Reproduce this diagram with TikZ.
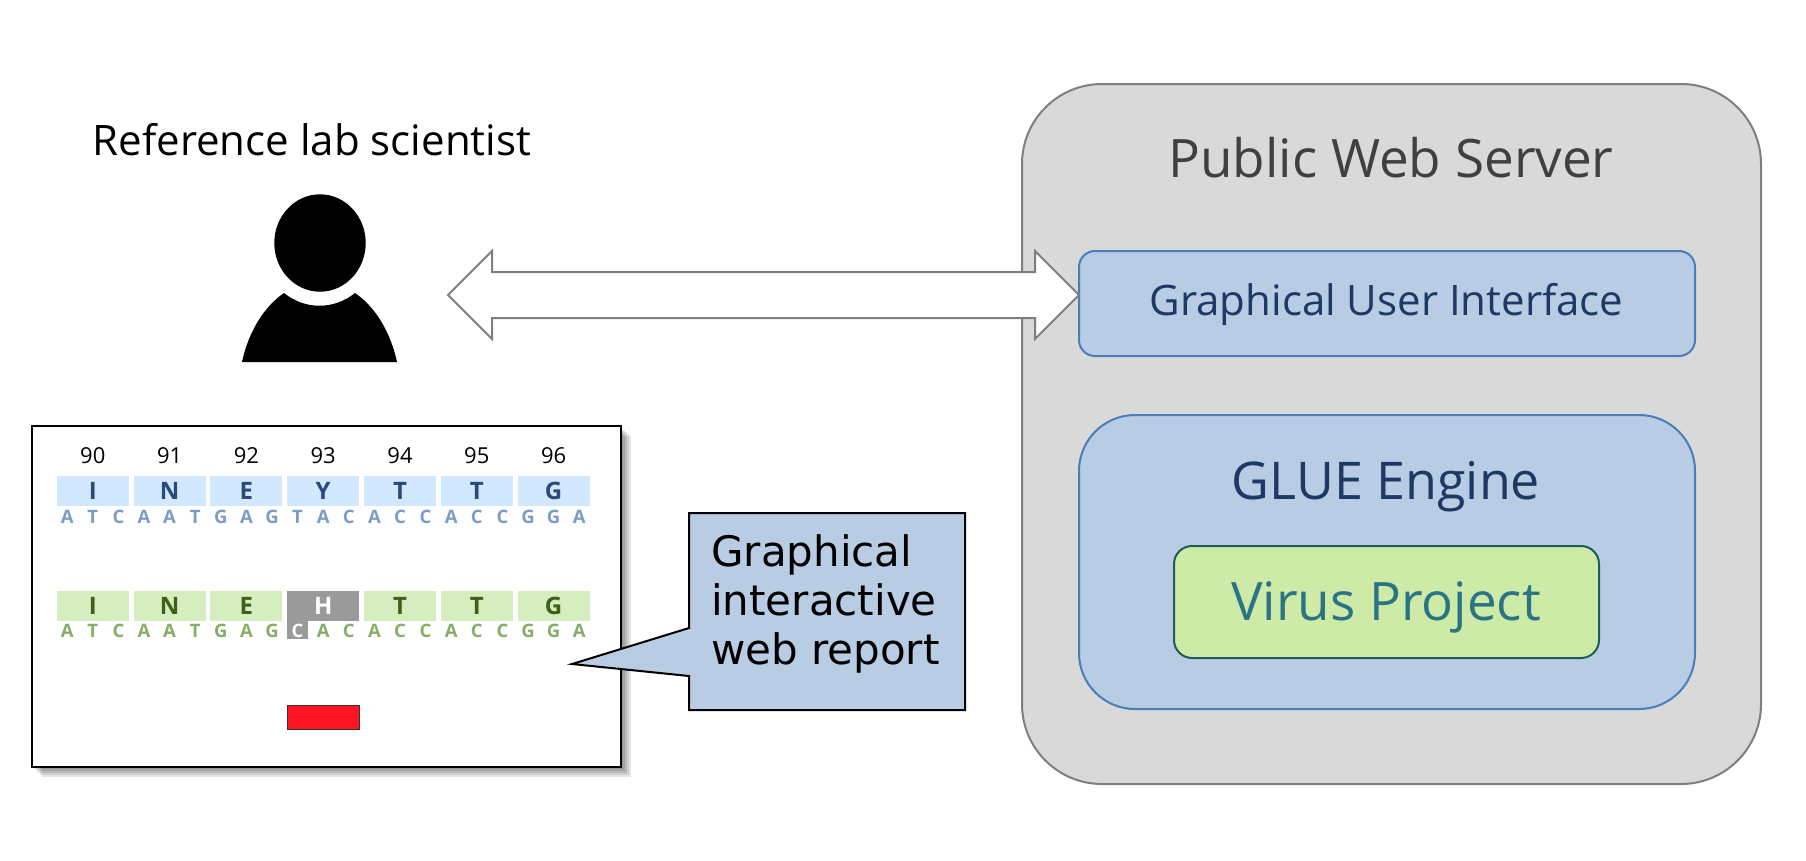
\documentclass[tikz,border=0pt]{standalone}
\usepackage{fontspec}
\setmainfont{Open Sans}
\newfontfamily\calloutfont{DejaVu Sans}
\usetikzlibrary{positioning, shapes.arrows, calc}
\definecolor{serverfill}{HTML}{D9D9D9}
\definecolor{serverline}{HTML}{7F7F7F}
\definecolor{bluefill}{HTML}{B8CCE4}
\definecolor{blueline}{HTML}{4A7EBB}
\definecolor{bluetext}{HTML}{1F3864}
\definecolor{greenfill}{HTML}{CDEBA6}
\definecolor{greenline}{HTML}{1F5C5C}
\definecolor{greentext}{HTML}{2B7485}
\definecolor{cellblue}{HTML}{D2E8FF}
\definecolor{cellgreen}{HTML}{D5EDBF}
\definecolor{aablue}{HTML}{2A4A7A}
\definecolor{ntblue}{HTML}{7C9CC8}
\definecolor{aagreen}{HTML}{3E6018}
\definecolor{ntgreen}{HTML}{85AE68}
\definecolor{cellgrey}{HTML}{9A9A9A}
\definecolor{flagred}{HTML}{FF1423}
\newcommand{\fsize}[1]{\fontsize{#1}{#1}\selectfont}
\tikzset{
  panel/.style={draw=blueline, line width=2pt, fill=bluefill, text=bluetext, inner sep=0pt},
  cell/.style={minimum width=72pt, minimum height=30pt, inner sep=0pt, font=\fsize{24}\bfseries},
  nt/.style={inner sep=0pt, font=\fsize{18.5}\bfseries},
  posnum/.style={inner sep=0pt, font=\fsize{22}},
}
\begin{document}
\begin{tikzpicture}[x=1pt, y=-1pt]
    \useasboundingbox (0,0) rectangle (1806,860);
    % web server
    \node[draw=serverline, line width=2pt, fill=serverfill, rounded corners=80pt, minimum width=739pt, minimum height=700pt, inner sep=0pt] (server) at (1391.5,434) {};
    \node[text=black!75, font=\fsize{53}] (servertitle) at (1391,158) {Public Web Server};
    \node[panel, rounded corners=16pt, minimum width=616pt, minimum height=105pt] (gui) at (1387,303.5) {};
    \node[text=bluetext, font=\fsize{42}] (guititle) at (1386.5,304) {Graphical User Interface};
    \node[panel, rounded corners=56pt, minimum width=616pt, minimum height=294pt] (glue) at (1387,562) {};
    \node[text=bluetext, font=\fsize{52}] (gluetitle) at (1386,487) {GLUE Engine};
    \node[draw=greenline, line width=2pt, fill=greenfill, rounded corners=18pt, minimum width=425pt, minimum height=112pt, inner sep=0pt] (virus) at (1386.5,602) {};
    \node[text=greentext, font=\fsize{53}] (virustitle) at (1386,607) {Virus Project};
    % scientist
    \node[font=\fsize{42}] (scientist) at (312,140) {Reference lab scientist};
    \fill (320,243) ellipse [x radius=45.7, y radius=48.7];
    \fill (242,362) .. controls (249,330) and (265,306) .. (284,293)
        .. controls (305,310) and (334,310) .. (355,293)
        .. controls (374,306) and (390,330) .. (397,362) -- cycle;
    % link
    \node[draw=serverline, line width=2pt, fill=white, double arrow, double arrow tip angle=90, double arrow head extend=21pt, double arrow head indent=0pt, inner xsep=0pt, inner ysep=22pt, minimum height=631pt] (link) at (763.5,295) {};
    % report
    \foreach \s in {10,8,6,4,2}
        \fill[black, opacity=.1] (32+\s,426+\s) rectangle (621+\s,767+\s);
    \node[draw=black, line width=2.4pt, fill=white, minimum width=589pt, minimum height=341pt, inner sep=0pt] (report) at (326.5,596.5) {};
    \foreach \n/\aa/\ab/\ca/\cb/\cc/\da/\db/\dc [count=\i from 0] in {
        90/I/I/A/T/C/A/T/C,
        91/N/N/A/A/T/A/A/T,
        92/E/E/G/A/G/G/A/G,
        93/Y/H/T/A/C/C/A/C,
        94/T/T/A/C/C/A/C/C,
        95/T/T/A/C/C/A/C/C,
        96/G/G/G/G/A/G/G/A} {
        \node[posnum] (num\i) at (92.8+76.8*\i,456) {\n};
        \node[cell, fill=cellblue, text=aablue] (ref\i) at (92.8+76.8*\i,491) {\aa};
        \ifnum\i=3
            \node[cell, fill=cellgrey, text=white] (qry\i) at (92.8+76.8*\i,605.5) {\ab};
            \fill[cellgrey] (287,620) rectangle (307.5,639.3);
        \else
            \node[cell, fill=cellgreen, text=aagreen] (qry\i) at (92.8+76.8*\i,605.5) {\ab};
        \fi
        \node[nt, text=ntblue] (refa\i) at (67.2+76.8*\i,516.5) {\ca};
        \node[nt, text=ntblue] (refb\i) at (92.8+76.8*\i,516.5) {\cb};
        \node[nt, text=ntblue] (refc\i) at (118.4+76.8*\i,516.5) {\cc};
        \ifnum\i=3
            \node[nt, text=white] (qrya\i) at (67.2+76.8*\i,630.5) {\da};
        \else
            \node[nt, text=ntgreen] (qrya\i) at (67.2+76.8*\i,630.5) {\da};
        \fi
        \node[nt, text=ntgreen] (qryb\i) at (92.8+76.8*\i,630.5) {\db};
        \node[nt, text=ntgreen] (qryc\i) at (118.4+76.8*\i,630.5) {\dc};
    }
    \node[draw=black!80, fill=flagred, minimum width=72pt, minimum height=24pt, inner sep=0pt] (flag) at (323,717) {};
    % callout
    \draw[draw=black, line width=2pt, fill=bluefill] (689,513) -- (965,513) -- (965,710) -- (689,710) -- (689,676) -- (572,664) -- (689,628) -- cycle;
    \node[align=left, anchor=west, inner sep=0pt, font=\calloutfont\fsize{42}, text=black] (reporttext) at (711,604) {Graphical\\[7pt]interactive\\[7pt]web report};
\end{tikzpicture}
\end{document}
